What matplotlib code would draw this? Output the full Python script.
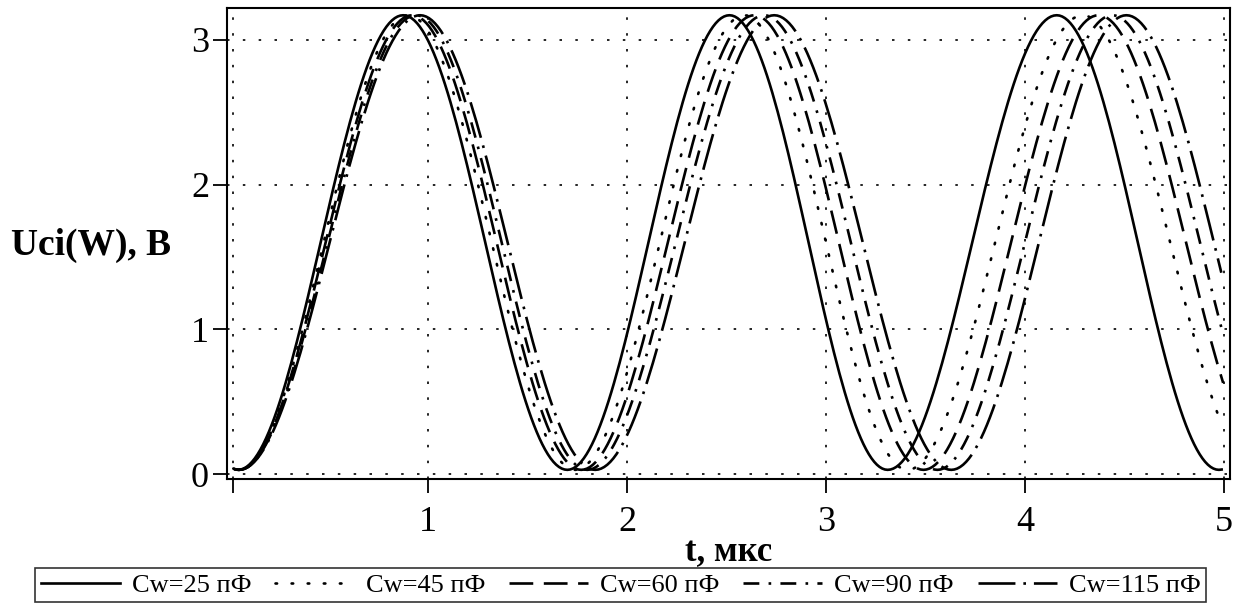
import numpy as np
import matplotlib
matplotlib.use('Agg')
import matplotlib.pyplot as plt

# ---- data ----
labels = ['Cw=25 пФ', 'Cw=45 пФ', 'Cw=60 пФ', 'Cw=90 пФ', 'Cw=115 пФ']
# times of minima / maxima of every curve (t, мкс), alternating min, max, min ...
ext_25 = [0.045, 0.875, 1.70, 2.515, 3.31, 4.16, 4.975]
ext_45 = [0.05, 0.90, 1.74, 2.59, 3.41, 4.29]
ext_60 = [0.05, 0.92, 1.77, 2.64, 3.49, 4.37]
ext_90 = [0.05, 0.94, 1.80, 2.69, 3.56, 4.44]
ext_115 = [0.05, 0.96, 1.84, 2.74, 3.63, 4.51]
u_min = 0.03
u_max = 3.17
t_first = 0.02
t_last = 5.0

xticks = [1, 2, 3, 4, 5]
yticks = [0, 1, 2, 3]

styles = [
    dict(linestyle='-'),
    dict(linestyle=(0, (0.6, 5.5)), dash_capstyle='round'),
    dict(linestyle=(0, (9, 4))),
    dict(linestyle=(0, (6, 3.5, 1, 3.5))),
    dict(linestyle=(0, (14, 3, 1, 3))),
]


def curve(ext, n=60):
    # smooth swing between neighbouring extrema
    ext = list(ext)
    h = ext[-1] - ext[-2]
    while ext[-1] < t_last:
        ext.append(ext[-1] + h)
    ext.insert(0, ext[0] - (ext[1] - ext[0]))
    tt = []
    uu = []
    for i in range(len(ext) - 1):
        a, b = ext[i], ext[i + 1]
        s = np.linspace(0, 1, n)
        lo_first = (i % 2 == 1)
        w = (1 - np.cos(np.pi * s)) / 2 if lo_first else (1 + np.cos(np.pi * s)) / 2
        tt.append(a + (b - a) * s)
        uu.append(u_min + (u_max - u_min) * w)
    tt = np.concatenate(tt)
    uu = np.concatenate(uu)
    keep = (tt >= t_first) & (tt <= t_last)
    return tt[keep], uu[keep]


plt.rcParams['font.family'] = ['Liberation Serif', 'DejaVu Serif']

fig = plt.figure(figsize=(12.41, 6.16), dpi=100)
ax = fig.add_axes([0.183, 0.222, 0.808, 0.765])

all_ext = [ext_25, ext_45, ext_60, ext_90, ext_115]
for ext, lab, st in zip(all_ext, labels, styles):
    t, u = curve(ext)
    ax.plot(t, u, color='black', lw=1.9, label=lab, **st)

ax.set_xlim(-0.01, 5.03)
ax.set_ylim(-0.035, 3.22)
ax.set_xticks([t_first] + xticks)
ax.set_xticklabels([''] + [str(v) for v in xticks])
ax.set_yticks(yticks)
ax.tick_params(direction='out', length=10, width=1.3, labelsize=26)
ax.tick_params(axis='x', pad=9)
ax.tick_params(axis='y', pad=3)
ax.grid(True, color='black', linestyle=(0, (1.5, 8)), linewidth=1.2)
for sp in ax.spines.values():
    sp.set_linewidth(1.5)

ax.set_xlabel('t, мкс', fontsize=25, fontweight='bold', labelpad=-2)
ax.set_ylabel('Uci(W), В', fontsize=27, fontweight='bold', rotation=0,
              va='center', ha='left')
ax.yaxis.set_label_coords(-0.216, 0.497)

leg = fig.legend(loc='center', bbox_to_anchor=(0.5, 0.05), ncol=5,
                 fontsize=19, frameon=True, fancybox=False, borderpad=0.2,
                 handlelength=3.0, columnspacing=0.9, handletextpad=0.45,
                 borderaxespad=0)
leg.get_frame().set_edgecolor('black')
leg.get_frame().set_linewidth(1.2)

fig.savefig('out.png', dpi=100)
